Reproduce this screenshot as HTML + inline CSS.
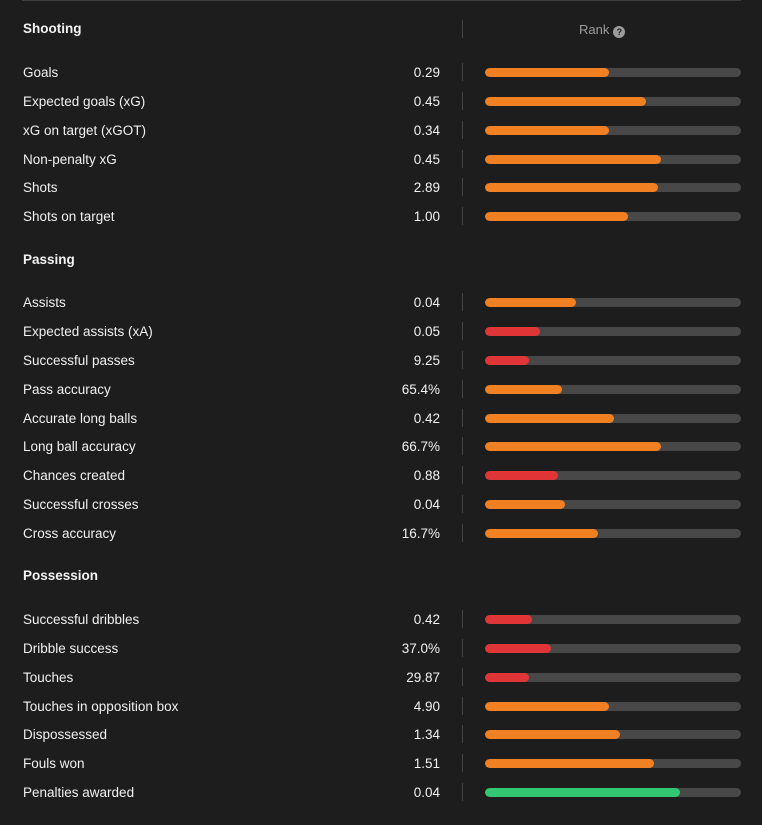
<!DOCTYPE html>
<html><head><meta charset="utf-8"><style>
html,body{margin:0;padding:0;background:#1d1d1d;width:762px;height:825px;overflow:hidden;font-family:"Liberation Sans",sans-serif;}
#c{position:relative;width:762px;height:825px;}
.topline{position:absolute;left:22px;top:0;width:719px;height:1px;background:#3d3d3d;}
.sec{position:absolute;left:23px;font-size:13.5px;font-weight:bold;color:#f2f2f2;line-height:16px;}
.lbl{position:absolute;left:23px;font-size:13.5px;color:#f0f0f0;line-height:16px;}
.val{position:absolute;right:322px;font-size:13.5px;color:#f0f0f0;line-height:16px;text-align:right;}
.sep{position:absolute;left:462px;width:1px;height:18px;background:#444;}
.track{position:absolute;left:485px;width:256px;height:9px;border-radius:5px;background:#484848;overflow:hidden;}
.fill{position:absolute;left:0;top:0;height:9px;border-radius:5px;}
.rank{position:absolute;left:579px;top:22px;font-size:13px;color:#9c9c9c;line-height:16px;}
.q{display:inline-block;width:12px;height:12px;border-radius:50%;background:#9c9c9c;color:#1d1d1d;font-size:9px;font-weight:bold;text-align:center;line-height:12px;vertical-align:-1px;margin-left:4px;}
</style></head><body>
<div id="c">
<div class="topline"></div>
<div class="sep" style="top:20px"></div>
<div class="rank">Rank<span class="q">?</span></div>
</div>
<script>
const sections = ["Shooting","Passing","Possession"];
const sectionY = [28,259,575];
const labels = ["Goals","Expected goals (xG)","xG on target (xGOT)","Non-penalty xG","Shots","Shots on target",
"Assists","Expected assists (xA)","Successful passes","Pass accuracy","Accurate long balls","Long ball accuracy","Chances created","Successful crosses","Cross accuracy",
"Successful dribbles","Dribble success","Touches","Touches in opposition box","Dispossessed","Fouls won","Penalties awarded"];
const values = ["0.29","0.45","0.34","0.45","2.89","1.00","0.04","0.05","9.25","65.4%","0.42","66.7%","0.88","0.04","16.7%","0.42","37.0%","29.87","4.90","1.34","1.51","0.04"];
const ranks = [48.6,63,48.6,68.6,67.5,55.7,35.7,21.6,17.3,30.2,50.2,68.6,28.6,31.4,44.3,18.4,25.9,17.3,48.6,52.9,65.9,76.1];
const rowY = [72,101,130,159,187,216,302,331,360,389,418,446,475,504,533,619,648,677,706,734,763,792];
const c = document.getElementById('c');
function colorFor(r){ if(r>=70) return '#33c771'; if(r<30) return '#df3537'; return '#f08022'; }
sections.forEach((s,i)=>{
  const d=document.createElement('div'); d.className='sec'; d.textContent=s; d.style.top=(sectionY[i]-7)+'px';
  
  
  c.appendChild(d);
});
labels.forEach((l,i)=>{
  const y=rowY[i];
  const a=document.createElement('div'); a.className='lbl'; a.textContent=l; a.style.top=(y-7)+'px';
  
  
  c.appendChild(a);
  const v=document.createElement('div'); v.className='val'; v.textContent=values[i]; v.style.top=(y-7)+'px';
  
  
  c.appendChild(v);
  const s=document.createElement('div'); s.className='sep'; s.style.top=(y-9)+'px';
  
  
  c.appendChild(s);
  const t=document.createElement('div'); t.className='track'; t.style.top=(y-4)+'px';
  
  
  const f=document.createElement('div'); f.className='fill'; f.style.width=(ranks[i]/100*256)+'px'; f.style.background=colorFor(ranks[i]);
  
  
  t.appendChild(f); c.appendChild(t);
});
</script>
</body></html>
